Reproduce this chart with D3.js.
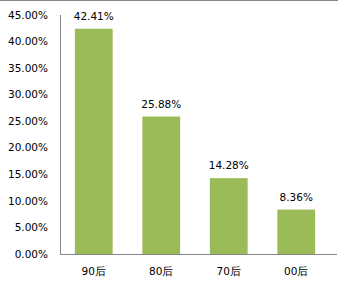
<!DOCTYPE html>
<html><head><meta charset="utf-8">
<script src="https://cdn.jsdelivr.net/npm/d3@7"></script>
<style>body{margin:0;background:#fff}svg{display:block}</style>
</head><body>
<script>
const categories = ["90后", "80后", "70后", "00后"];
const values = [42.41, 25.88, 14.28, 8.36];
const yTicks = [0, 5, 10, 15, 20, 25, 30, 35, 40, 45];

const W = 338, H = 285;
const svg = d3.select("body").append("svg").attr("width", W).attr("height", H);
const font = "'DejaVu Sans', Verdana, sans-serif";

svg.append("line").attr("x1", 0).attr("x2", W).attr("y1", 0.5).attr("y2", 0.5)
  .attr("stroke", "#868686");

const x = d3.scaleBand().domain(categories).range([60, 330]).paddingInner(0.44).paddingOuter(0.22);
const y = d3.scaleLinear().domain([0, 45]).range([254, 15]);

// y axis
svg.append("line").attr("x1", 60.5).attr("x2", 60.5).attr("y1", 15).attr("y2", 254)
  .attr("stroke", "#868686");
svg.append("g").selectAll("text").data(yTicks).join("text")
  .attr("x", 48).attr("y", d => y(d)).attr("dy", "0.35em")
  .attr("text-anchor", "end").attr("font-family", font).attr("font-size", 10.5)
  .attr("fill", "#000")
  .text(d => d.toFixed(2) + "%");

// bars
svg.append("g").selectAll("rect").data(values).join("rect")
  .attr("x", (d, i) => x(categories[i])).attr("width", x.bandwidth())
  .attr("y", d => y(d)).attr("height", d => y(0) - y(d))
  .attr("fill", "#9BBB59");

// value labels
svg.append("g").selectAll("text").data(values).join("text")
  .attr("x", (d, i) => x(categories[i]) + x.bandwidth() / 2)
  .attr("y", d => y(d) - 9)
  .attr("text-anchor", "middle").attr("font-family", font).attr("font-size", 10.5)
  .attr("fill", "#000")
  .text(d => d.toFixed(2) + "%");

// x axis
svg.append("line").attr("x1", 60).attr("x2", 337).attr("y1", 254.5).attr("y2", 254.5)
  .attr("stroke", "#868686");
svg.append("g").selectAll("text").data(categories).join("text")
  .attr("x", d => x(d) + x.bandwidth() / 2).attr("y", 275)
  .attr("text-anchor", "middle").attr("font-family", font).attr("font-size", 10.5)
  .attr("fill", "#000")
  .text(d => d);
</script>
</body></html>
